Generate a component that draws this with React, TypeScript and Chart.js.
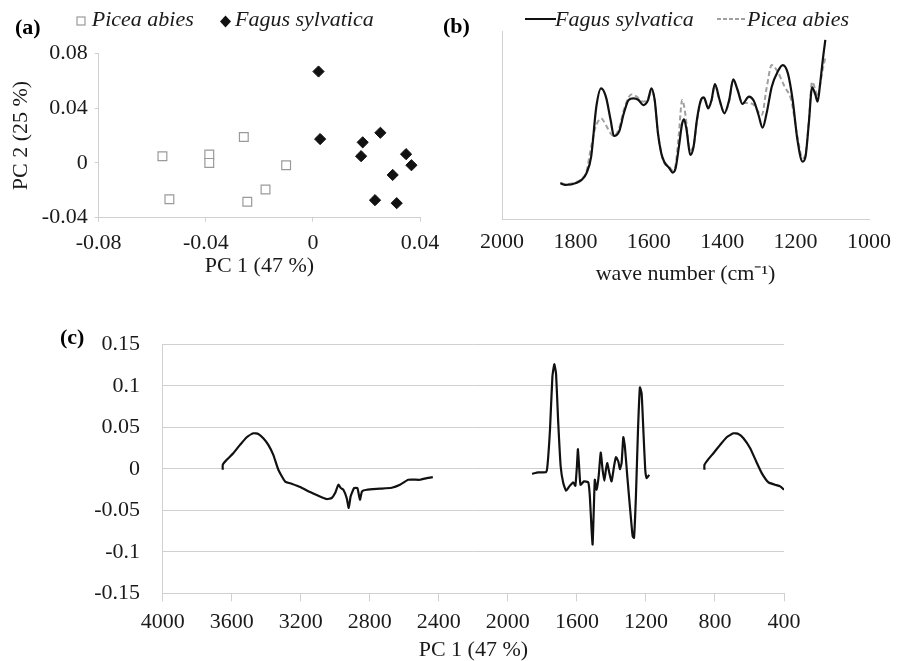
import React, { useEffect, useRef } from "react";
import { Chart, registerables } from "chart.js";
Chart.register(...registerables);

const FONT = "'Liberation Serif', 'Times New Roman', serif";
const AXIS_GRAY = "#d0d0d0";
const TEXT = "#1a1a1a";

// ---------- Panel (a): PCA scores ----------
const piceaPC1 = [-0.0562, -0.0536, -0.0387, -0.0387, -0.0258, -0.0245, -0.0177, -0.01];
const piceaPC2 = [0.0049, -0.0265, 0.0061, 0.0, 0.0189, -0.0284, -0.0194, -0.0017];
const fagusPC1 = [0.0021, 0.0027, 0.0186, 0.018, 0.0252, 0.0348, 0.0368, 0.0298, 0.0232, 0.0313];
const fagusPC2 = [0.0667, 0.0174, 0.015, 0.0049, 0.022, 0.0064, -0.0017, -0.0088, -0.0272, -0.0294];
const aXTicks = [-0.08, -0.04, 0, 0.04];
const aYTicks = [-0.04, 0, 0.04, 0.08];

// ---------- Panel (b): mean spectra ----------
const bFagusWave = [1841, 1827, 1796, 1783, 1770, 1757, 1743, 1730, 1717, 1704, 1695, 1681, 1668, 1655, 1642, 1628, 1615, 1602, 1593, 1584, 1575, 1566, 1558, 1544, 1535, 1527, 1518, 1509, 1504, 1497, 1487, 1478, 1469, 1458, 1450, 1438, 1429, 1420, 1407, 1394, 1381, 1370, 1358, 1345, 1327, 1314, 1301, 1290, 1279, 1265, 1248, 1235, 1221, 1208, 1195, 1181, 1173, 1164, 1155, 1146, 1140, 1133, 1126, 1119];
const bFagusVal = [0.192, 0.183, 0.195, 0.21, 0.245, 0.334, 0.6, 0.698, 0.654, 0.529, 0.444, 0.467, 0.565, 0.636, 0.645, 0.636, 0.609, 0.636, 0.698, 0.636, 0.458, 0.352, 0.307, 0.272, 0.249, 0.272, 0.387, 0.512, 0.533, 0.476, 0.343, 0.387, 0.529, 0.636, 0.65, 0.591, 0.636, 0.721, 0.636, 0.565, 0.636, 0.746, 0.689, 0.615, 0.654, 0.632, 0.556, 0.488, 0.565, 0.707, 0.79, 0.822, 0.778, 0.636, 0.423, 0.307, 0.334, 0.512, 0.703, 0.663, 0.627, 0.725, 0.849, 0.956];
const bPiceaWave = [1841, 1827, 1796, 1783, 1770, 1757, 1746, 1730, 1717, 1704, 1695, 1681, 1668, 1655, 1646, 1633, 1615, 1602, 1593, 1584, 1575, 1566, 1558, 1544, 1535, 1527, 1518, 1509, 1500, 1488, 1478, 1469, 1458, 1450, 1438, 1429, 1420, 1407, 1394, 1381, 1370, 1358, 1345, 1327, 1314, 1292, 1279, 1265, 1250, 1230, 1212, 1195, 1181, 1173, 1164, 1155, 1146, 1140, 1133, 1126, 1119];
const bPiceaVal = [0.195, 0.187, 0.2, 0.215, 0.254, 0.387, 0.485, 0.538, 0.503, 0.458, 0.444, 0.485, 0.583, 0.65, 0.666, 0.654, 0.627, 0.645, 0.68, 0.636, 0.458, 0.352, 0.3, 0.28, 0.26, 0.29, 0.458, 0.636, 0.556, 0.369, 0.39, 0.52, 0.63, 0.645, 0.6, 0.63, 0.715, 0.63, 0.57, 0.63, 0.74, 0.69, 0.62, 0.62, 0.61, 0.556, 0.7, 0.822, 0.79, 0.707, 0.636, 0.44, 0.325, 0.35, 0.52, 0.733, 0.69, 0.654, 0.72, 0.8, 0.86];
const bXTicks = [2000, 1800, 1600, 1400, 1200, 1000];

// ---------- Panel (c): PC1 loadings ----------
const cSeg1Wave = [3652, 3652, 3629, 3591, 3552, 3513, 3475, 3446, 3417, 3388, 3359, 3330, 3291, 3253, 3204, 3146, 3098, 3050, 3021, 3001, 2982, 2968, 2953, 2934, 2922, 2911, 2891, 2872, 2857, 2845, 2818, 2741, 2673, 2625, 2577, 2509, 2470, 2435];
const cSeg1Val = [-0.0012, 0.0048, 0.0108, 0.0188, 0.0288, 0.038, 0.0428, 0.042, 0.0368, 0.0288, 0.0168, -0.0012, -0.0152, -0.018, -0.022, -0.028, -0.0324, -0.0364, -0.0352, -0.0292, -0.0192, -0.0232, -0.0252, -0.0352, -0.0472, -0.0332, -0.0232, -0.0232, -0.0372, -0.0272, -0.0252, -0.024, -0.0228, -0.0192, -0.0132, -0.0132, -0.0112, -0.01];
const cSeg2Wave = [1860, 1823, 1779, 1771, 1756, 1742, 1731, 1721, 1708, 1694, 1679, 1663, 1644, 1621, 1609, 1600, 1594, 1586, 1579, 1559, 1534, 1525, 1515, 1509, 1501, 1496, 1486, 1474, 1462, 1451, 1441, 1432, 1424, 1412, 1399, 1385, 1374, 1360, 1351, 1341, 1331, 1322, 1308, 1293, 1277, 1269, 1258, 1246, 1235, 1225, 1215, 1204, 1196, 1188, 1181];
const cSeg2Val = [-0.006, -0.0044, -0.004, 0.0028, 0.0468, 0.1108, 0.126, 0.1148, 0.0548, 0.0028, -0.0172, -0.0264, -0.0212, -0.0164, -0.0204, 0.0028, 0.0236, -0.0012, -0.0192, -0.0152, -0.0164, -0.0332, -0.0732, -0.0912, -0.0412, -0.0132, -0.0252, -0.0092, 0.0196, -0.0012, -0.0144, -0.0012, 0.0068, -0.0052, -0.0152, 0.0028, 0.014, 0.0088, -0.0004, 0.0068, 0.038, 0.0268, -0.0092, -0.0452, -0.0812, -0.0832, -0.0332, 0.0468, 0.098, 0.0908, 0.0468, -0.0012, -0.0112, -0.0092, -0.0072];
const cSeg3Wave = [861, 861, 838, 809, 770, 732, 693, 664, 635, 596, 561, 529, 490, 452, 422, 400];
const cSeg3Val = [-0.0012, 0.0048, 0.0116, 0.0188, 0.0288, 0.038, 0.0428, 0.042, 0.0368, 0.0248, 0.0088, -0.0052, -0.0164, -0.0192, -0.0212, -0.0252];
const cXTicks = [4000, 3600, 3200, 2800, 2400, 2000, 1600, 1200, 800, 400];
const cYTicks = [-0.15, -0.1, -0.05, 0, 0.05, 0.1, 0.15];

const zip = (xs: number[], ys: number[]) => xs.map((x, i) => ({ x, y: ys[i] }));
const fmt = (v: any) => {
  const n = Number(v);
  if (Math.abs(n) < 1e-9) return "0";
  return String(parseFloat(n.toFixed(3)));
};
const tickFont = { family: FONT, size: 22 };
const setTicks = (vals: number[]) => (s: any) => {
  s.ticks = vals.map((v) => ({ value: v }));
};

function ChartCanvas({ left, top, width, height, make }: any) {
  const ref = useRef<HTMLCanvasElement | null>(null);
  useEffect(() => {
    if (!ref.current) return;
    const chart = new Chart(ref.current, make());
    return () => chart.destroy();
  }, []);
  return (
    <canvas
      ref={ref}
      width={width}
      height={height}
      style={{ position: "absolute", left, top, width, height }}
    />
  );
}

const makeA = (): any => ({
  type: "scatter",
  data: {
    datasets: [
      {
        label: "Picea abies",
        data: zip(piceaPC1, piceaPC2),
        pointStyle: "rect",
        pointRadius: 6.2,
        borderWidth: 1.2,
        borderColor: "#9a9a9a",
        backgroundColor: "#ffffff",
      },
      {
        label: "Fagus sylvatica",
        data: zip(fagusPC1, fagusPC2),
        pointStyle: "rectRot",
        pointRadius: 5.6,
        borderWidth: 1,
        borderColor: "#111",
        backgroundColor: "#111",
      },
    ],
  },
  options: {
    responsive: false,
    animation: false,
    layout: { padding: { left: 4.5, top: 53.3, right: 50, bottom: 6.1 } },
    plugins: { legend: { display: false }, tooltip: { enabled: false } },
    scales: {
      x: {
        type: "linear",
        min: -0.08,
        max: 0.04,
        afterBuildTicks: setTicks(aXTicks),
        afterFit: (s: any) => { s.height = 66.2; },
        ticks: { callback: fmt, font: tickFont, color: TEXT, padding: 8, maxRotation: 0 },
        grid: { drawOnChartArea: false, tickLength: 4, color: AXIS_GRAY },
        border: { color: AXIS_GRAY },
        title: { display: true, text: "PC 1 (47 %)", font: tickFont, color: TEXT, padding: { top: 4, bottom: 4 } },
      },
      y: {
        type: "linear",
        min: -0.04,
        max: 0.08,
        afterBuildTicks: setTicks(aYTicks),
        afterFit: (s: any) => { s.width = 94.2; },
        ticks: { callback: fmt, font: tickFont, color: TEXT, padding: 7 },
        grid: { drawOnChartArea: false, tickLength: 4, color: AXIS_GRAY },
        border: { color: AXIS_GRAY },
        title: { display: true, text: "PC 2 (25 %)", font: tickFont, color: TEXT, padding: { top: 4, bottom: 4 } },
      },
    },
  },
});

const makeB = (): any => ({
  type: "line",
  data: {
    datasets: [
      {
        label: "Fagus sylvatica",
        data: zip(bFagusWave, bFagusVal),
        borderColor: "#111",
        borderWidth: 2.2,
        pointRadius: 0,
        cubicInterpolationMode: "monotone",
      },
      {
        label: "Picea abies",
        data: zip(bPiceaWave, bPiceaVal),
        borderColor: "#a0a0a0",
        borderWidth: 2,
        borderDash: [5, 3],
        pointRadius: 0,
        cubicInterpolationMode: "monotone",
      },
    ],
  },
  options: {
    responsive: false,
    animation: false,
    layout: { padding: { left: 26.7, top: 31.7, right: 27.7, bottom: 8.8 } },
    plugins: { legend: { display: false }, tooltip: { enabled: false } },
    scales: {
      x: {
        type: "linear",
        min: 1000,
        max: 2000,
        reverse: true,
        afterBuildTicks: setTicks(bXTicks),
        afterFit: (s: any) => { s.height = 71.9; },
        ticks: { callback: (v: any) => String(v), font: tickFont, color: TEXT, padding: 10, maxRotation: 0 },
        grid: { drawOnChartArea: false, drawTicks: false, color: AXIS_GRAY },
        border: { color: AXIS_GRAY },
        title: { display: true, text: "wave number (cm\u207B\u00B9)", font: tickFont, color: TEXT, padding: { top: 4, bottom: 4 } },
      },
      y: {
        type: "linear",
        min: 0,
        max: 1,
        afterFit: (s: any) => { s.width = 0; },
        ticks: { display: false },
        grid: { display: false },
        border: { display: true, color: AXIS_GRAY },
      },
    },
  },
});

const makeC = (): any => ({
  type: "line",
  data: {
    datasets: [
      { label: "seg1", data: zip(cSeg1Wave, cSeg1Val) },
      { label: "seg2", data: zip(cSeg2Wave, cSeg2Val) },
      { label: "seg3", data: zip(cSeg3Wave, cSeg3Val) },
    ].map((d) => ({ ...d, borderColor: "#111", borderWidth: 2.2, pointRadius: 0, tension: 0.15 })),
  },
  options: {
    responsive: false,
    animation: false,
    layout: { padding: { left: 10, top: 54.3, right: 117, bottom: 2.8 } },
    plugins: { legend: { display: false }, tooltip: { enabled: false } },
    scales: {
      x: {
        type: "linear",
        min: 400,
        max: 4000,
        reverse: true,
        afterBuildTicks: setTicks(cXTicks),
        afterFit: (s: any) => { s.height = 73.9; },
        ticks: { callback: (v: any) => String(v), font: tickFont, color: TEXT, padding: 8, maxRotation: 0, autoSkip: false },
        grid: { drawOnChartArea: false, tickLength: 8, color: AXIS_GRAY },
        border: { color: AXIS_GRAY },
        title: { display: true, text: "PC 1 (47 %)", font: tickFont, color: TEXT, padding: { top: 4, bottom: 4 } },
      },
      y: {
        type: "linear",
        min: -0.15,
        max: 0.15,
        afterBuildTicks: setTicks(cYTicks),
        afterFit: (s: any) => { s.width = 152.7; },
        ticks: { callback: fmt, font: tickFont, color: TEXT, padding: 22.7 },
        grid: { drawTicks: false, color: AXIS_GRAY },
        border: { color: AXIS_GRAY },
      },
    },
  },
});

const txt = (left: number, top: number, s: string, extra: any = {}) => (
  <div
    style={{
      position: "absolute",
      left,
      top,
      fontFamily: FONT,
      fontSize: 22,
      lineHeight: "22px",
      whiteSpace: "nowrap",
      color: TEXT,
      ...extra,
    }}
  >
    {s}
  </div>
);

export default function App() {
  return (
    <div
      style={{
        position: "fixed",
        left: 0,
        top: 0,
        width: 901,
        height: 661,
        overflow: "hidden",
        background: "#fff",
      }}
    >
      <ChartCanvas left={0} top={0} width={470} height={290} make={makeA} />
      <ChartCanvas left={470} top={0} width={431} height={300} make={makeB} />
      <ChartCanvas left={0} top={290} width={901} height={380} make={makeC} />

      {/* panel labels */}
      {txt(15, 15.6, "(a)", { fontWeight: "bold", color: "#000" })}
      {txt(443, 15, "(b)", { fontWeight: "bold", color: "#000" })}
      {txt(60, 325.6, "(c)", { fontWeight: "bold", color: "#000" })}

      {/* legend (a) */}
      <svg style={{ position: "absolute", left: 76, top: 15.5 }} width={11} height={11}>
        <rect x={1} y={1} width={8} height={8} fill="#fff" stroke="#9a9a9a" strokeWidth={1.2} />
      </svg>
      {txt(91.7, 8.3, "Picea abies", { fontStyle: "italic" })}
      <svg style={{ position: "absolute", left: 219, top: 14.5 }} width={13} height={13}>
        <polygon points="6.5,0.5 12,6.5 6.5,12.5 1,6.5" fill="#111" />
      </svg>
      {txt(235, 8.3, "Fagus sylvatica", { fontStyle: "italic" })}

      {/* legend (b) */}
      <svg style={{ position: "absolute", left: 525, top: 17 }} width={31} height={4}>
        <line x1={0} y1={2} x2={31} y2={2} stroke="#111" strokeWidth={2} />
      </svg>
      {txt(555, 7.6, "Fagus sylvatica", { fontStyle: "italic" })}
      <svg style={{ position: "absolute", left: 717, top: 17 }} width={30} height={4}>
        <line x1={0} y1={2} x2={30} y2={2} stroke="#a0a0a0" strokeWidth={2} strokeDasharray="4 2" />
      </svg>
      {txt(747, 7.6, "Picea abies", { fontStyle: "italic" })}
    </div>
  );
}
